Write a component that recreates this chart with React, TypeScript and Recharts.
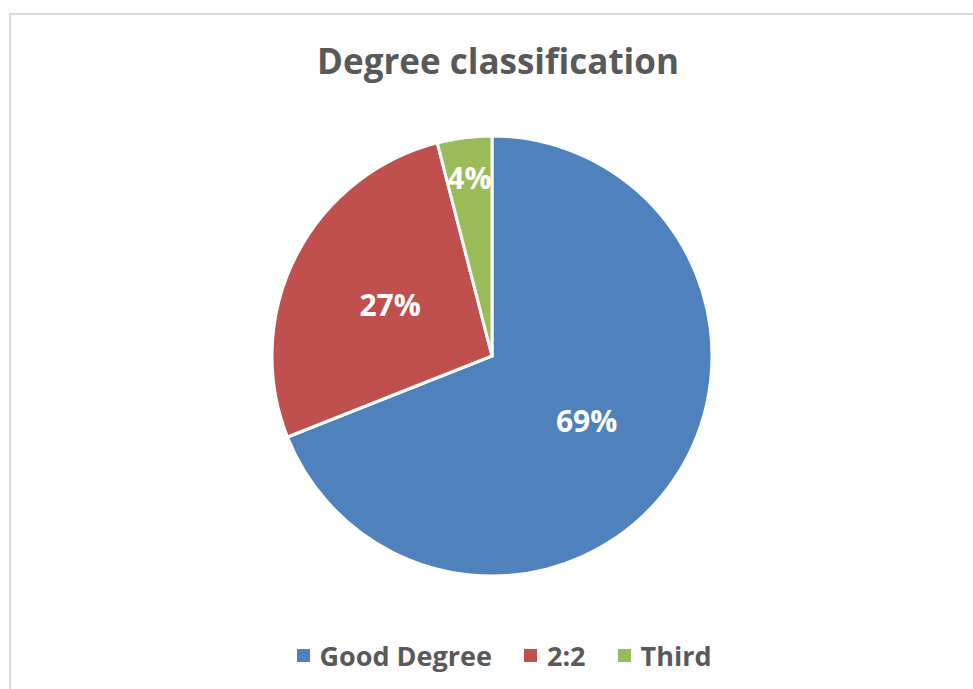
import { PieChart, Pie, Cell } from 'recharts';

const categories = ['Good Degree', '2:2', 'Third'];
const shares = [69, 27, 4];
const colors = ['#4F81BD', '#C0504D', '#9BBB59'];

const data = categories.map((name, i) => ({ name, value: shares[i] }));

const FONT = '"Open Sans", Calibri, sans-serif';
const RAD = Math.PI / 180;

// percent labels inside slices; small slices sit closer to the rim
const renderLabel = (props: any) => {
  const { cx, cy, midAngle, outerRadius, percent } = props;
  const r = outerRadius * (percent < 0.1 ? 0.82 : 0.52);
  const x = cx + r * Math.cos(-midAngle * RAD);
  const y = cy + r * Math.sin(-midAngle * RAD);
  return (
    <text x={x} y={y} fill="#fff" textAnchor="middle" dominantBaseline="central"
      style={{ fontFamily: FONT, fontSize: 30, fontWeight: 700 }}>
      {`${Math.round(percent * 100)}%`}
    </text>
  );
};

export default function App() {
  return (
    <div style={{ position: 'absolute', left: 0, top: 0, width: 973, height: 689, overflow: 'hidden', background: '#fff' }}>
      <div style={{ position: 'absolute', left: 9, top: 13, width: 1000, height: 700, border: '2px solid #d9d9d9', boxSizing: 'border-box' }} />
      <div style={{ position: 'absolute', left: 0, top: 37, width: 996, textAlign: 'center', fontFamily: FONT, fontWeight: 700, fontSize: 35, color: '#595959' }}>
        Degree classification
      </div>
      <div style={{ position: 'absolute', left: 0, top: 0 }}>
        <PieChart width={973} height={689} margin={{ top: 0, right: 0, bottom: 0, left: 0 }}>
          <Pie
            data={data}
            dataKey="value"
            cx={492}
            cy={356}
            outerRadius={220}
            startAngle={90}
            endAngle={-270}
            stroke="#fff"
            strokeWidth={3}
            label={renderLabel}
            labelLine={false}
            isAnimationActive={false}
          >
            {data.map((d, i) => (
              <Cell key={d.name} fill={colors[i]} />
            ))}
          </Pie>
        </PieChart>
      </div>
      <div style={{ position: 'absolute', left: 0, top: 637, width: 1008, display: 'flex', justifyContent: 'center', gap: 32, fontFamily: FONT, fontWeight: 700, fontSize: 27, color: '#595959' }}>
        {categories.map((c, i) => (
          <div key={c} style={{ display: 'flex', alignItems: 'center', gap: 10 }}>
            <span style={{ width: 13, height: 13, background: colors[i], display: 'inline-block' }} />
            <span>{c}</span>
          </div>
        ))}
      </div>
    </div>
  );
}
